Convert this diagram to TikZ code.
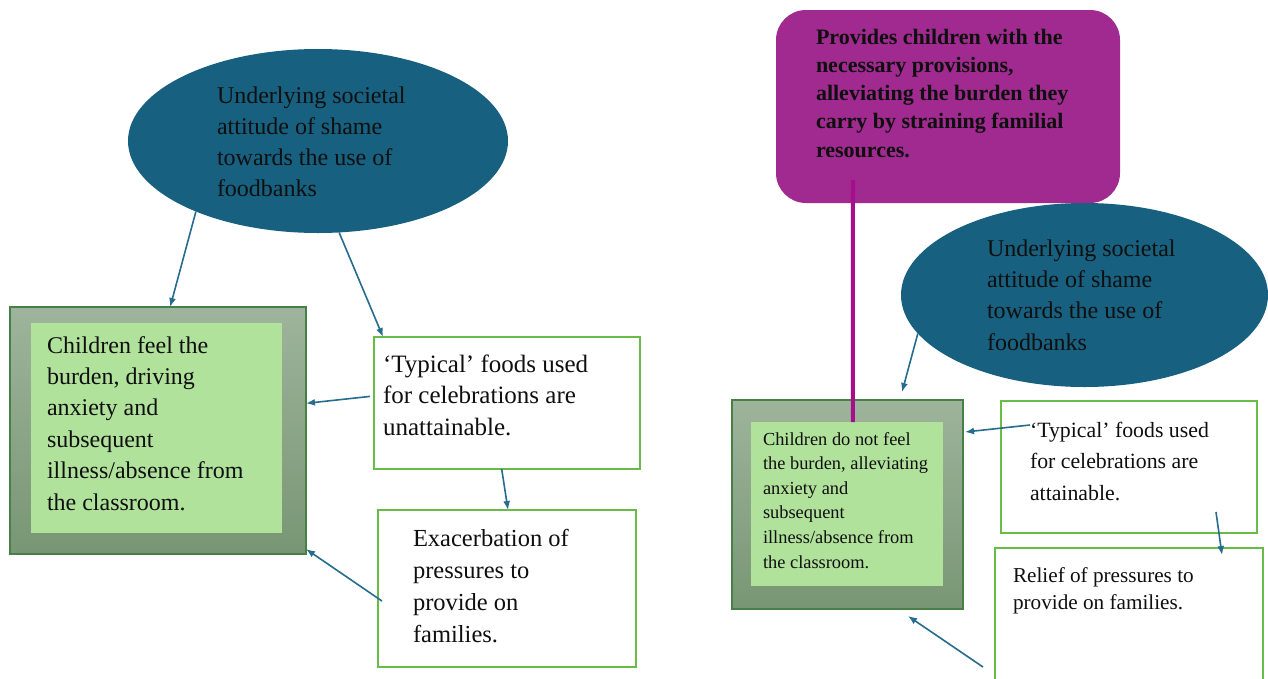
\documentclass[tikz,border=0pt]{standalone}
\usepackage{fontspec}
\setmainfont{Liberation Serif}
\usetikzlibrary{shapes.geometric,arrows.meta,calc}
\definecolor{ellc}{RGB}{23,96,127}
\definecolor{arrc}{RGB}{38,108,142}
\definecolor{gborder}{RGB}{70,128,70}
\definecolor{gtop}{RGB}{158,180,156}
\definecolor{gbot}{RGB}{120,150,116}
\definecolor{ginner}{RGB}{176,226,156}
\definecolor{wborder}{RGB}{106,188,72}
\definecolor{purpc}{RGB}{160,42,143}
\definecolor{magc}{RGB}{166,15,140}
\definecolor{txtc}{RGB}{15,15,15}
\newcommand\setfs[2]{\fontsize{#1}{#2}\selectfont}
\begin{document}
\begin{tikzpicture}[x=1pt,y=-1pt,
  txt/.style={anchor=base west, inner sep=0pt, outer sep=0pt, align=left, text=txtc},
  arr/.style={draw=arrc, line width=1.6pt, -{Latex[length=9pt,width=7pt]}},
  rbox/.style={rectangle, inner sep=0pt, outer sep=0pt},
  wbox/.style={rbox, draw=wborder, line width=1.6pt, fill=white},
  obox/.style={rbox, draw=gborder, line width=1.4pt, top color=gtop, bottom color=gbot},
  ibox/.style={rbox, fill=ginner},
  ell/.style={ellipse, fill=ellc, inner sep=0pt, outer sep=0pt}]
\useasboundingbox (0,0) rectangle (1268,678);
\fill[white] (0,0) rectangle (1268,678);

% ---------- left diagram ----------
\node[ell, minimum width=380pt, minimum height=184pt] (ellL) at (318,141) {};
\node[txt, font=\setfs{24}{31}] (ellLt) at (217,196) {Underlying societal\\attitude of shame\\towards the use of\\foodbanks};

\node[obox, minimum width=296pt, minimum height=247pt] (outerL) at (158,430.5) {};
\node[ibox, minimum width=251pt, minimum height=210pt] (innerL) at (156.5,428) {};
\node[txt, font=\setfs{24}{31.4}] (innerLt) at (47,510) {Children feel the\\burden, driving\\anxiety and\\subsequent\\illness/absence from\\the classroom.};

\node[wbox, minimum width=266pt, minimum height=132pt] (typL) at (507,403) {};
\node[txt, font=\setfs{25}{31.5}] (typLt) at (383,435) {‘Typical’ foods used\\for celebrations are\\unattainable.};

\node[wbox, minimum width=258pt, minimum height=157pt] (exaL) at (507,588.5) {};
\node[txt, font=\setfs{24.5}{31.7}] (exaLt) at (413,642) {Exacerbation of\\pressures to\\provide on\\families.};

\draw[arr] (ellL.210.5) -- ($(outerL.north west)!0.541!(outerL.north east)$);
\draw[arr] (ellL.283.5) -- ($(typL.north west)!0.034!(typL.north east)$);
\draw[arr] ($(typL.north west)!0.45!(typL.south west)+(-4,0)$) -- ($(outerL.north east)!0.39!(outerL.south east)$);
\draw[arr] ($(typL.south west)!0.48!(typL.south east)$) -- ($(exaL.north west)!0.504!(exaL.north east)$);
\draw[arr] ($(exaL.north west)!0.58!(exaL.south west)+(4,0)$) -- ($(outerL.north east)!0.98!(outerL.south east)$);

% ---------- right diagram ----------
\node[rbox, fill=purpc, rounded corners=30pt, minimum width=344pt, minimum height=193pt] (purp) at (948,106.5) {};
\node[txt, font=\bfseries\setfs{22}{28.2}] (purpt) at (816,157) {Provides children with the\\necessary provisions,\\alleviating the burden they\\carry by straining familial\\resources.};

\node[ell, minimum width=367pt, minimum height=184pt] (ellR) at (1084.5,295) {};
\node[txt, font=\setfs{24}{31.3}] (ellRt) at (987,350) {Underlying societal\\attitude of shame\\towards the use of\\foodbanks};

\node[obox, minimum width=231pt, minimum height=209pt] (outerR) at (847.5,504.5) {};
\node[ibox, minimum width=192pt, minimum height=164pt] (innerR) at (847,504) {};
\node[txt, font=\setfs{18.4}{24.6}] (innerRt) at (763,568) {Children do not feel\\the burden, alleviating\\anxiety and\\subsequent\\illness/absence from\\the classroom.};

\node[wbox, minimum width=256pt, minimum height=132pt] (typR) at (1129,467) {};
\node[txt, font=\setfs{21.8}{31.5}] (typRt) at (1030,500) {‘Typical’ foods used\\for celebrations are\\attainable.};

\node[wbox, minimum width=268pt, minimum height=160pt] (relR) at (1129,628) {};
\node[txt, font=\setfs{21.2}{27}] (relRt) at (1013,609) {Relief of pressures to\\provide on families.};

\draw[magc, line width=4pt] ($(purp.south west)+(77,-23)$) -- ($(innerR.north west)!0.53!(innerR.north east)$);

\draw[arr] (ellR.193.5) -- ($(outerR.north west)!0.736!(outerR.north east)+(0,-8)$);
\draw[arr] ($(typR.north west)+(29,24)$) -- ($(outerR.north east)+(2,32)$);
\draw[arr] ($(typR.south west)+(215,-21)$) -- ($(relR.north west)+(227,7)$);
\draw[arr] ($(relR.north west)+(-12,119)$) -- ($(outerR.south east)+(-55,7)$);
\end{tikzpicture}
\end{document}
